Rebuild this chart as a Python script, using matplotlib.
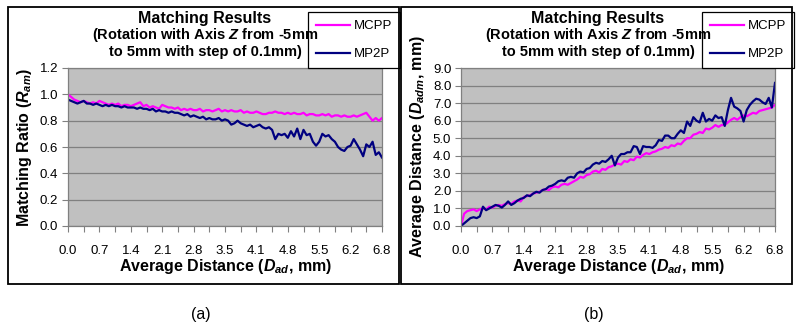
import matplotlib
matplotlib.use('Agg')
import matplotlib.pyplot as plt
from matplotlib.patches import Rectangle

plt.rcParams['font.family'] = ['Liberation Sans', 'DejaVu Sans']
plt.rcParams['mathtext.fontset'] = 'custom'
plt.rcParams['mathtext.rm'] = 'Liberation Sans:bold'
plt.rcParams['mathtext.it'] = 'Liberation Sans:bold:italic'
plt.rcParams['mathtext.bf'] = 'Liberation Sans:bold'

# x 轴类别标签 (每10个点一个)
x_labels = ['0.0', '0.7', '1.4', '2.1', '2.8', '3.5', '4.1', '4.8', '5.5', '6.2', '6.8']

# (a) 匹配率
ratio_mcpp = [
    1.00, 0.98, 0.96, 0.95, 0.94, 0.95, 0.94, 0.93, 0.94, 0.93,
    0.95, 0.94, 0.93, 0.92, 0.93, 0.92, 0.93, 0.91, 0.92, 0.92,
    0.91, 0.92, 0.93, 0.94, 0.91, 0.92, 0.90, 0.91, 0.90, 0.89,
    0.92, 0.91, 0.90, 0.90, 0.89, 0.90, 0.88, 0.89, 0.88, 0.89,
    0.88, 0.88, 0.89, 0.87, 0.88, 0.88, 0.87, 0.88, 0.89, 0.87,
    0.88, 0.87, 0.88, 0.87, 0.87, 0.88, 0.86, 0.87, 0.86, 0.86,
    0.87, 0.86, 0.85, 0.85, 0.86, 0.86, 0.87, 0.86, 0.86, 0.85,
    0.86, 0.85, 0.86, 0.85, 0.85, 0.86, 0.84, 0.85, 0.85, 0.84,
    0.84, 0.85, 0.84, 0.85, 0.83, 0.84, 0.84, 0.83, 0.84, 0.83,
    0.83, 0.84, 0.83, 0.84, 0.85, 0.86, 0.83, 0.80, 0.82, 0.80,
    0.82]
ratio_mp2p = [
    0.96, 0.95, 0.94, 0.93, 0.94, 0.95, 0.93, 0.93, 0.92, 0.93,
    0.92, 0.91, 0.92, 0.91, 0.92, 0.91, 0.91, 0.90, 0.91, 0.90,
    0.90, 0.90, 0.89, 0.90, 0.89, 0.89, 0.88, 0.89, 0.87, 0.88,
    0.87, 0.87, 0.86, 0.87, 0.86, 0.86, 0.85, 0.84, 0.85, 0.83,
    0.84, 0.83, 0.82, 0.83, 0.81, 0.82, 0.81, 0.81, 0.82, 0.80,
    0.81, 0.80, 0.77, 0.78, 0.80, 0.78, 0.77, 0.76, 0.77, 0.75,
    0.76, 0.77, 0.75, 0.74, 0.75, 0.73, 0.66, 0.70, 0.69, 0.70,
    0.67, 0.72, 0.68, 0.74, 0.66, 0.73, 0.69, 0.70, 0.64, 0.61,
    0.64, 0.70, 0.68, 0.69, 0.66, 0.64, 0.60, 0.58, 0.57, 0.60,
    0.61, 0.66, 0.62, 0.58, 0.53, 0.62, 0.60, 0.64, 0.54, 0.56,
    0.52]

# (b) 平均距离
dist_mcpp = [
    0.00, 0.70, 0.85, 0.90, 0.95, 0.85, 0.95, 1.00, 0.95, 1.10,
    1.05, 1.15, 1.20, 1.15, 1.25, 1.30, 1.25, 1.40, 1.45, 1.40,
    1.65, 1.70, 1.75, 1.85, 1.90, 1.95, 2.05, 2.10, 2.05, 2.20,
    2.25, 2.20, 2.35, 2.40, 2.35, 2.45, 2.55, 2.65, 2.80, 2.75,
    2.90, 2.95, 3.10, 3.15, 3.05, 3.25, 3.20, 3.35, 3.40, 3.50,
    3.55, 3.50, 3.70, 3.65, 3.80, 3.75, 3.95, 3.90, 4.05, 4.15,
    4.10, 4.20, 4.25, 4.35, 4.40, 4.50, 4.45, 4.60, 4.55, 4.70,
    4.65, 4.85, 5.00, 5.00, 5.20, 5.25, 5.35, 5.30, 5.55, 5.50,
    5.60, 5.75, 5.65, 5.75, 5.75, 5.90, 6.05, 6.15, 6.05, 6.20,
    6.30, 6.25, 6.35, 6.45, 6.40, 6.55, 6.60, 6.65, 6.70, 6.75,
    6.90]
dist_mp2p = [
    0.00, 0.15, 0.30, 0.45, 0.50, 0.45, 0.55, 1.10, 0.90, 1.00,
    1.10, 1.20, 1.15, 1.05, 1.20, 1.40, 1.20, 1.30, 1.45, 1.55,
    1.60, 1.75, 1.70, 1.85, 1.95, 1.90, 2.05, 2.10, 2.25, 2.30,
    2.40, 2.55, 2.60, 2.55, 2.75, 2.80, 2.75, 3.00, 3.10, 3.05,
    3.25, 3.30, 3.50, 3.60, 3.55, 3.70, 3.65, 3.80, 4.00, 3.45,
    3.90, 4.10, 4.10, 4.20, 4.20, 4.55, 4.50, 4.10, 4.55, 4.50,
    4.50, 4.45, 4.60, 4.90, 4.85, 5.15, 5.15, 5.00, 5.00, 5.25,
    5.45, 5.30, 5.95, 5.70, 6.20, 6.00, 5.90, 6.45, 5.95, 6.10,
    6.00, 6.30, 6.15, 6.20, 5.70, 6.60, 7.30, 6.80, 6.70, 6.55,
    5.95, 6.60, 6.90, 7.10, 7.25, 7.20, 7.05, 6.95, 7.30, 6.75,
    8.15]

W, H = 800, 329
fig = plt.figure(figsize=(W / 100, H / 100), dpi=100)


def fx(px):
    return px / W


def fy(py):
    return 1 - py / H


def panel(x0, mcpp, mp2p, ylim, ystep, ylabel, caption, leg_x):
    # 外框
    fig.patches.append(Rectangle((fx(x0 - 60), fy(284)), fx(391), 277 / H,
                                 transform=fig.transFigure, fill=False,
                                 edgecolor='black', lw=1.3))
    ax = fig.add_axes([fx(x0), fy(226), fx(314), 158 / H])
    ax.set_facecolor('#C0C0C0')
    xs = list(range(len(mcpp)))
    ax.plot(xs, mcpp, color='#FF00FF', lw=1.6, label='MCPP')
    ax.plot(xs, mp2p, color='#000080', lw=1.6, label='MP2P')
    ax.set_xlim(0, len(mcpp) - 1)
    ax.set_ylim(0, ylim)
    yt = [i * ystep for i in range(int(round(ylim / ystep)) + 1)]
    ax.set_yticks(yt)
    ax.set_yticklabels([f'{v:.1f}' for v in yt], fontsize=9.5)
    ax.set_xticks(range(0, len(mcpp), 10))
    ax.set_xticklabels(x_labels, fontsize=9.5)
    ax.set_xticks(range(0, len(mcpp), 5), minor=True)
    ax.tick_params(axis='both', which='both', direction='out', length=4,
                   color='#808080', width=0.8)
    ax.tick_params(axis='x', pad=10)
    ax.tick_params(axis='y', pad=3)
    ax.grid(axis='y', color='#808080', lw=0.9)
    ax.set_axisbelow(True)
    for s in ax.spines.values():
        s.set_color('#808080')
        s.set_linewidth(0.9)
    ax.set_xlabel(r'Average Distance ($D_{ad}$, mm)', fontsize=11.5,
                  fontweight='bold', labelpad=0)
    ax.set_ylabel(ylabel, fontsize=11.5, fontweight='bold', labelpad=4)

    cx = x0 + 137
    fig.text(fx(cx), fy(19), 'Matching Results', ha='center', va='center',
             fontsize=11.5, fontweight='bold')
    fig.text(fx(cx), fy(35), r'(Rotation with Axis $Z$ from -5mm',
             ha='center', va='center', fontsize=10.5, fontweight='bold')
    fig.text(fx(cx), fy(52), 'to 5mm with step of 0.1mm)',
             ha='center', va='center', fontsize=10.5, fontweight='bold')
    leg = ax.legend(loc='upper left', bbox_to_anchor=(fx(leg_x), fy(12)),
                    bbox_transform=fig.transFigure, fontsize=9.5,
                    fancybox=False, edgecolor='black', framealpha=1,
                    handlelength=2.6, borderpad=0.6, labelspacing=1.2,
                    handletextpad=0.3, borderaxespad=0)
    leg.get_frame().set_linewidth(0.9)
    leg.set_zorder(10)
    fig.text(fx(x0 + 133), fy(315), caption, ha='center', va='center',
             fontsize=11.5)
    return ax


panel(68, ratio_mcpp, ratio_mp2p, 1.2, 0.2,
      r'Matching Ratio ($R_{am}$)', '(a)', 308)
panel(461, dist_mcpp, dist_mp2p, 9.0, 1.0,
      r'Average Distance ($D_{adm}$, mm)', '(b)', 702)

fig.savefig('out.png', dpi=100)
